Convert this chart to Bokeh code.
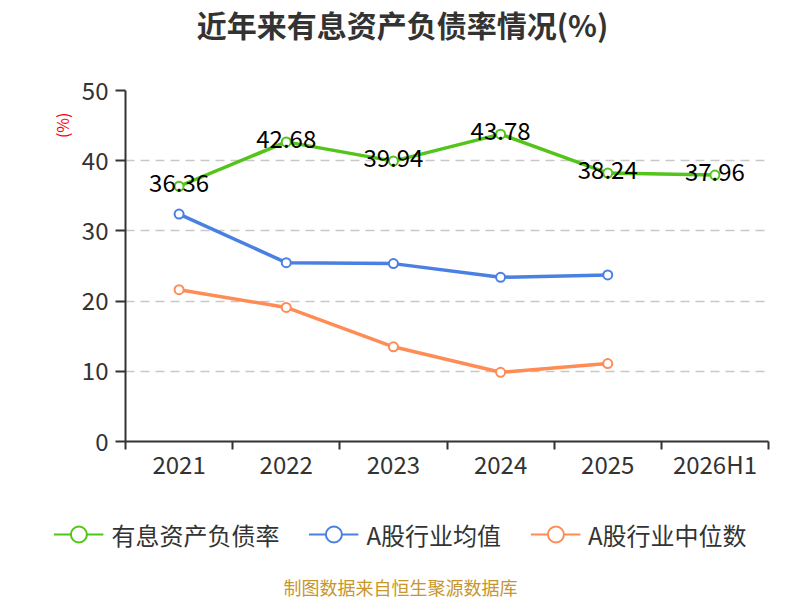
from bokeh.plotting import figure
from bokeh.layouts import column, row
from bokeh.models import (Range1d, FixedTicker, Title, Label, Legend, LegendItem, ColumnDataSource)
from bokeh.core.properties import value
from bokeh.embed import file_html
from bokeh.resources import INLINE

categories = ["2021", "2022", "2023", "2024", "2025", "2026H1"]
debt_ratio = [36.36, 42.68, 39.94, 43.78, 38.24, 37.96]
industry_mean = [32.39, 25.48, 25.34, 23.39, 23.72]
industry_median = [21.63, 19.10, 13.49, 9.86, 11.10]
y_ticks = [0, 10, 20, 30, 40, 50]

series_names = ["有息资产负债率", "A股行业均值", "A股行业中位数"]
colors = ["#52c41a", "#4a80e2", "#ff8c55"]
title_text = "近年来有息资产负债率情况(%)"
unit_text = "(%)"
footer_text = "制图数据来自恒生聚源数据库"

FONT = "Noto Sans CJK SC"
W = 800
TOP_H, MAIN_H, BOT_H = 50, 450, 100


def blank_fig(h):
    f = figure(width=W, height=h, output_backend="svg", toolbar_location=None,
               x_range=Range1d(0, W), y_range=Range1d(0, h),
               x_axis_type=None, y_axis_type=None,
               min_border=0, min_border_left=0, min_border_right=0,
               min_border_top=0, min_border_bottom=0)
    f.outline_line_color = None
    f.xgrid.grid_line_color = None
    f.ygrid.grid_line_color = None
    f.background_fill_color = "white"
    f.border_fill_color = "white"
    return f


# ---- title strip
ft = blank_fig(TOP_H)
ft.add_layout(Label(x=402, y=TOP_H - 23, text=title_text, text_align="center",
                    text_baseline="middle", text_font=FONT, text_font_size="30px",
                    text_font_style="bold", text_color="#333333"))

# ---- main chart
p = figure(width=W, height=MAIN_H, output_backend="svg", toolbar_location=None,
           x_range=Range1d(0, len(categories)), y_range=Range1d(0, 50),
           min_border_left=125, min_border_right=32, min_border_top=40,
           min_border_bottom=59)
p.outline_line_color = None
p.background_fill_color = "white"
p.border_fill_color = "white"

xa = p.xaxis[0]
xa.ticker = FixedTicker(ticks=[i + 0.5 for i in range(len(categories))],
                        minor_ticks=list(range(len(categories) + 1)))
xa.major_label_overrides = {i + 0.5: c for i, c in enumerate(categories)}
xa.major_tick_out = 0
xa.major_tick_in = 0
xa.minor_tick_out = 8
xa.minor_tick_in = 0
xa.minor_tick_line_color = "#333333"
xa.minor_tick_line_width = 2
xa.axis_line_color = "#333333"
xa.axis_line_width = 2
xa.major_label_standoff = -4
xa.major_label_text_font = FONT
xa.major_label_text_font_size = "24px"
xa.major_label_text_color = "#333333"

ya = p.yaxis[0]
ya.ticker = FixedTicker(ticks=y_ticks)
ya.major_tick_out = 10
ya.major_tick_in = 0
ya.minor_tick_line_color = None
ya.major_tick_line_color = "#333333"
ya.major_tick_line_width = 2
ya.axis_line_color = "#333333"
ya.axis_line_width = 2
ya.major_label_standoff = 7
ya.major_label_text_font = FONT
ya.major_label_text_font_size = "24px"
ya.major_label_text_color = "#333333"

p.xgrid.grid_line_color = None
p.ygrid.grid_line_color = "#c8c8c8"
p.ygrid.grid_line_dash = "9 6"
p.ygrid.grid_line_width = 1.5

series = [debt_ratio, industry_mean, industry_median]
for vals, col in zip(series, colors):
    xs = [i + 0.5 for i in range(len(vals))]
    src = ColumnDataSource(dict(x=xs, y=vals))
    p.line("x", "y", source=src, line_color=col, line_width=3.5)
    p.scatter("x", "y", source=src, marker="circle", size=9,
              fill_color="white", line_color=col, line_width=2)

lab_src = ColumnDataSource(dict(x=[i + 0.5 for i in range(len(debt_ratio))], y=debt_ratio,
                                t=["%.2f" % v for v in debt_ratio]))
p.text("x", "y", text="t", source=lab_src, text_align="center", text_baseline="middle",
       y_offset=-3, text_font=value(FONT), text_font_size="24px", text_color="#000000")

p.add_layout(Title(text=unit_text, align="right", offset=22, standoff=10,
                   text_font=FONT, text_font_size="16px", text_font_style="normal",
                   text_color="#ff0000"), "left")

# ---- legend + footer strip
fb = blank_fig(BOT_H)
nan = float("nan")
items = []
for name, col in zip(series_names, colors):
    proxy = ColumnDataSource(dict(x=[nan], y=[nan]))
    ln = fb.line("x", "y", source=proxy, line_color=col, line_width=2)
    sc = fb.scatter("x", "y", source=proxy, marker="circle", size=16, fill_color="white",
                    line_color=col, line_width=2)
    items.append(LegendItem(label=name, renderers=[ln, sc]))
legend = Legend(items=items, orientation="horizontal", location="top_center",
                label_text_font=FONT, label_text_font_size="24px",
                label_text_color="#333333", glyph_width=50, glyph_height=40,
                label_standoff=8, spacing=29, padding=0, margin=14,
                border_line_color=None, background_fill_alpha=0)
fb.add_layout(legend, "center")
fb.add_layout(Label(x=400, y=14, text=footer_text, text_align="center",
                    text_baseline="middle", text_font=FONT, text_font_size="18px",
                    text_color="#c8962a"))

layout = column(row(ft), p, row(fb), spacing=0)
open("out.html", "w").write(file_html(layout, INLINE))
